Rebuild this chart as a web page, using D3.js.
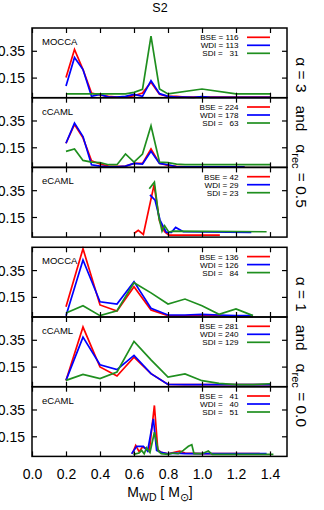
<!DOCTYPE html>
<html><head><meta charset="utf-8">
<script src="https://cdn.jsdelivr.net/npm/d3@7"></script>
<style>body{margin:0;background:#fff}svg{display:block}text{font-family:"Liberation Sans",Arial,sans-serif}</style>
</head><body>
<script>
// ---- data ----
const grid05 = [0.2,0.25,0.3,0.35,0.4,0.45,0.5,0.55,0.6,0.65,0.7,0.75,0.8,0.85,0.9,0.95,1.0,1.05,1.1,1.15,1.2,1.25,1.3,1.35,1.4];
const grid10 = [0.2,0.3,0.4,0.5,0.6,0.7,0.8,0.9,1.0,1.1,1.2,1.3,1.4];

// Panel 1: MOCCA, alpha=3
const p1BSE = [0.15,0.36,0.21,0.035,0.02,0.01,0.005,0.005,0.015,0.035,0.115,0.025,0.01,0.01,0.005,0.005,0.005,0.005,0.005,0.005,0.005,0.005,0.005,0.005,0.005];
const p1WDI = [0.087,0.30,0.21,0.01,0.025,0.005,0.005,0.01,0.025,0.01,0.127,0.03,0.01,0.005,0.005,0.003,0.008,0.003,0.003,0.003,0.003,0.003,0.003,0.003,0.003];
const p1SDIx = [0.2,0.3,0.4,0.5,0.55,0.6,0.65,0.7,0.75,0.8,1.0,1.2,1.4];
const p1SDI = [0.028,0.028,0.028,0.028,0.028,0.04,0.062,0.46,0.065,0.028,0.065,0.028,0.028];
// Panel 2: cCAML, alpha=3
const p2BSE = [0.18,0.32,0.22,0.05,0.025,0.01,0.008,0.01,0.03,0.03,0.137,0.03,0.015,0.008,0.005,0.005,0.005,0.005,0.005,0.005,0.005,0.005];
const p2WDI = [0.18,0.33,0.23,0.02,0.01,0.005,0.005,0.01,0.03,0.025,0.12,0.03,0.02,0.005,0.005,0.005,0.005,0.005,0.005,0.005,0.005,0.005];
const p2SDI = [0.12,0.137,0.052,0.04,0.035,0.02,0.02,0.10,0.04,0.10,0.31,0.04,0.035,0.025,0.02,0.02,0.02,0.02,0.02,0.02,0.02,0.02,0.02,0.02,0.02];
// Panel 3: eCAML, alpha=3
const p3BSEx = [0.6,0.625,0.655,0.718,0.75,0.78,0.805,1.105];
const p3BSE = [0.027,0.05,0.02,0.39,0.12,0.04,0.015,0.015];
const p3WDIx = [0.694,0.724,0.753,0.79,0.82,0.845,0.89,1.29];
const p3WDI = [0.315,0.275,0.127,0.035,0.035,0.072,0.04,0.035];
const p3SDIx = [0.69,0.72,0.745,0.765,0.78,0.805,0.83,1.38];
const p3SDI = [0.36,0.41,0.157,0.045,0.085,0.037,0.045,0.04];
// Panel 4: MOCCA, alpha=1
const p4BSE = [0.077,0.51,0.09,0.045,0.226,0.052,0.01,0.008,0.015,0.01,0.005,0.005];
const p4WDI = [0.01,0.425,0.114,0.097,0.264,0.065,0.015,0.015,0.02,0.015,0.01,0.01];
const p4SDI = [0.03,0.084,0.01,0.047,0.256,0.18,0.097,0.134,0.084,0.02,0.06,0.01];
// Panel 5: cCAML, alpha=1
const p5BSE = [0.047,0.445,0.147,0.08,0.22,0.097,0.017,0.015,0.015,0.015,0.015,0.015,0.015];
const p5WDI = [0.047,0.37,0.164,0.127,0.234,0.097,0.017,0.015,0.015,0.015,0.015,0.015,0.015];
const p5SDI = [0.047,0.092,0.06,0.11,0.338,0.2,0.072,0.095,0.045,0.025,0.015,0.015,0.022];
// Panel 6: eCAML, alpha=0
const p6BSEx = [0.59,0.61,0.63,0.65,0.67,0.69,0.72,0.74,0.76,0.8,0.85,0.87,0.9,1.0,1.34];
const p6BSE = [0.02,0.082,0.035,0.07,0.06,0.04,0.38,0.05,0.03,0.02,0.035,0.04,0.025,0.02,0.02];
const p6WDIx = [0.586,0.616,0.655,0.68,0.714,0.733,0.76,0.8,0.85,0.9,1.0,1.38];
const p6WDI = [0.02,0.075,0.075,0.04,0.28,0.045,0.03,0.02,0.025,0.02,0.02,0.02];
const p6SDIx = [0.596,0.63,0.645,0.66,0.674,0.694,0.72,0.743,0.76,0.8,0.83,0.86,0.89,0.92,0.94,0.953,1.0,1.037,1.06,1.42];
const p6SDI = [0.015,0.025,0.045,0.02,0.065,0.03,0.18,0.04,0.02,0.015,0.025,0.02,0.045,0.075,0.087,0.02,0.02,0.04,0.015,0.015];

const panelNames = ["MOCCA","cCAML","eCAML","MOCCA","cCAML","eCAML"];
const legendCounts = [
  ["BSE = 116","WDI = 113","SDI =   31"],
  ["BSE = 224","WDI = 178","SDI =   63"],
  ["BSE = 42","WDI = 29","SDI = 23"],
  ["BSE = 136","WDI = 126","SDI =   84"],
  ["BSE = 281","WDI = 240","SDI = 129"],
  ["BSE =   41","WDI =   40","SDI =   51"]
];
const xTicks = [0.0,0.2,0.4,0.6,0.8,1.0,1.2,1.4];
const yTicks = [0.15,0.35];
const seriesColors = ["#ff0000","#0000ff","#1f8f1f"];

const panels = [
  [[grid05,p1BSE],[grid05,p1WDI],[p1SDIx,p1SDI]],
  [[grid05,p2BSE],[grid05,p2WDI],[grid05,p2SDI]],
  [[p3BSEx,p3BSE],[p3WDIx,p3WDI],[p3SDIx,p3SDI]],
  [[grid10,p4BSE],[grid10,p4WDI],[grid10,p4SDI]],
  [[grid10,p5BSE],[grid10,p5WDI],[grid10,p5SDI]],
  [[p6BSEx,p6BSE],[p6WDIx,p6WDI],[p6SDIx,p6SDI]]
];

// ---- layout ----
const W = 324, H = 510;
const left = 32, right = 287, ph = 69.7;
const groupTops = [28, 247.3];
const svg = d3.select("body").append("svg").attr("width",W).attr("height",H);
const x = d3.scaleLinear().domain([0,1.5]).range([left,right]);

svg.append("text").attr("x",160).attr("y",12).attr("text-anchor","middle")
  .attr("font-size",12.5).text("S2");

panels.forEach((series,i)=>{
  const g = Math.floor(i/3);
  const top = groupTops[g] + (i%3)*ph;
  const bot = top + ph;
  const y = d3.scaleLinear().domain([0,0.52]).range([bot,top]);
  const pg = svg.append("g");
  const line = d3.line().x(d=>x(d[0])).y(d=>y(d[1]));
  series.forEach((s,k)=>{
    const pts = s[0].map((xv,j)=>[xv,s[1][j]]).filter(d=>d[1]!==undefined);
    pg.append("path").datum(pts).attr("d",line).attr("fill","none")
      .attr("stroke",seriesColors[k]).attr("stroke-width",1.7).attr("stroke-linejoin","miter");
  });
  // axes (inward ticks)
  const ax = pg.append("g").attr("transform",`translate(0,${bot})`)
    .call(d3.axisBottom(x).tickValues(xTicks).tickSizeInner(-5).tickSizeOuter(0).tickFormat(i===5?d3.format(".1f"):""));
  const axT = pg.append("g").attr("transform",`translate(0,${top})`)
    .call(d3.axisTop(x).tickValues(xTicks).tickSizeInner(-5).tickSizeOuter(0).tickFormat(""));
  const ayL = pg.append("g").attr("transform",`translate(${left},0)`)
    .call(d3.axisLeft(y).tickValues(yTicks).tickSizeInner(-5).tickSizeOuter(0).tickFormat(d3.format(".2f")));
  const ayR = pg.append("g").attr("transform",`translate(${right},0)`)
    .call(d3.axisRight(y).tickValues(yTicks).tickSizeInner(-5).tickSizeOuter(0).tickFormat(""));
  [ax,axT,ayL,ayR].forEach(a=>{
    a.select(".domain").remove();
    a.selectAll("line").attr("stroke","#000").attr("stroke-width",1.2);
    a.selectAll("text").attr("font-size",14).attr("font-family","Liberation Sans, Arial, sans-serif").attr("fill","#000");
  });
  ayL.selectAll("text").attr("x",-7).attr("dy","0.36em");
  ax.selectAll("text").attr("y",13);
  pg.append("rect").attr("x",left).attr("y",top).attr("width",right-left).attr("height",ph)
    .attr("fill","none").attr("stroke","#000").attr("stroke-width",1.5);
  // label
  pg.append("text").attr("x",42).attr("y",top+17).attr("font-size",9.5).text(panelNames[i]);
  // legend
  legendCounts[i].forEach((t,k)=>{
    const ly = top + 9.3 + k*8;
    pg.append("text").attr("x",238.5).attr("y",ly+2.9).attr("text-anchor","end")
      .attr("font-size",8.1).style("white-space","pre").text(t);
    pg.append("line").attr("x1",247).attr("x2",270).attr("y1",ly).attr("y2",ly)
      .attr("stroke",seriesColors[k]).attr("stroke-width",1.7);
  });
});

// right-side labels
const sideLabels = [["3","0.5"],["1","0.0"]];
sideLabels.forEach((s,g)=>{
  const cy = groupTops[g] + 1.5*ph;
  const t = svg.append("text").attr("transform",`translate(296,${cy}) rotate(90)`)
    .attr("text-anchor","middle").attr("font-size",15.5).style("white-space","pre");
  t.append("tspan").text(`α = ${s[0]}   and   α`);
  t.append("tspan").attr("font-size",11).attr("dy",4).text("rec");
  t.append("tspan").attr("dy",-4).text(` = ${s[1]}`);
});

// x axis title
const xt = svg.append("text").attr("x",160).attr("y",497).attr("text-anchor","middle").attr("font-size",14);
xt.append("tspan").text("M");
xt.append("tspan").attr("font-size",10.5).attr("dy",4).text("WD");
xt.append("tspan").attr("dy",-4).style("white-space","pre").text(" [ M");
xt.append("tspan").attr("font-size",11).attr("dy",4).text("⊙");
xt.append("tspan").attr("dy",-4).text("]");
</script>
</body></html>
